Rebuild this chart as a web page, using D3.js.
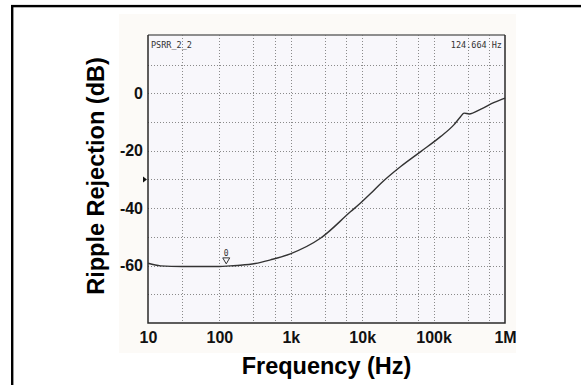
<!DOCTYPE html>
<html>
<head>
<meta charset="utf-8">
<script src="https://cdn.jsdelivr.net/npm/d3@7/dist/d3.min.js"></script>
<style>
  html, body { margin: 0; padding: 0; background: #ffffff; }
  svg { display: block; }
</style>
</head>
<body>
<svg id="chart" width="581" height="385"></svg>
<script>
// Measured ripple rejection vs frequency
const freqHz = [10, 15, 30, 100, 141, 196, 317, 519, 985, 2600, 6900, 9400, 13000, 18200,
                34600, 66000, 125000, 192000, 240000, 267000, 315000, 460000, 707000, 1000000];
const rejectionDb = [-59.2, -60.1, -60.3, -60.3, -60.1, -59.9, -59.3, -58.0, -55.9, -50.5, -41.2, -38.3, -35.0, -31.4,
                     -25.5, -20.3, -15.1, -11.0, -8.1, -6.9, -7.2, -5.5, -3.2, -1.7];

const xTickValues = [10, 100, 1000, 10000, 100000, 1000000];
const xTickLabels = ["10", "100", "1k", "10k", "100k", "1M"];
const xGridValues = [30, 100, 300, 600, 1000, 3000, 6000, 10000, 30000, 60000, 100000, 300000, 600000];
const yTickValues = [0, -20, -40, -60];
const yTickLabels = ["0", "-20", "-40", "-60"];
const yGridValues = [10, 0, -10, -20, -30, -40, -50, -60, -70];
const cursorHz = 124.664;
const cursorDb = -60.1;
const traceName = "PSRR_2_2";
const cursorText = "124.664 Hz";

const svg = d3.select("#chart");
const W = 581, H = 385;

const plot = { left: 148, right: 505, top: 35, bottom: 323 };

const x = d3.scaleLog().domain([10, 1000000]).range([plot.left, plot.right]);
const y = d3.scaleLinear().domain([-80, 20.3]).range([plot.bottom, plot.top]);

// outer frame (only the top and left edges fall inside the view)
svg.append("rect")
  .attr("x", 12.2).attr("y", 6.1)
  .attr("width", W + 20).attr("height", H + 20)
  .attr("fill", "none").attr("stroke", "#000").attr("stroke-width", 2.4);

// pale panel behind the analyser plot
svg.append("rect")
  .attr("x", 119).attr("y", 14)
  .attr("width", 397).attr("height", 339)
  .attr("fill", "#fcfaf7");

// plot area
svg.append("rect")
  .attr("x", plot.left).attr("y", plot.top)
  .attr("width", plot.right - plot.left).attr("height", plot.bottom - plot.top)
  .attr("fill", "#f8f7fb");

// dotted grid
const grid = svg.append("g").attr("stroke", "#8a8a8a").attr("stroke-width", 1)
  .attr("stroke-dasharray", "1,2").attr("fill", "none");
grid.selectAll("line.v").data(xGridValues).join("line")
  .attr("class", "v")
  .attr("x1", d => Math.round(x(d)) + 0.5).attr("x2", d => Math.round(x(d)) + 0.5)
  .attr("y1", plot.top).attr("y2", plot.bottom);
grid.selectAll("line.h").data(yGridValues).join("line")
  .attr("class", "h")
  .attr("x1", plot.left).attr("x2", plot.right)
  .attr("y1", d => Math.round(y(d)) + 0.5).attr("y2", d => Math.round(y(d)) + 0.5);

// frame around the plot
svg.append("line").attr("x1", plot.left).attr("x2", plot.right)
  .attr("y1", plot.top).attr("y2", plot.top)
  .attr("stroke", "#6a6a6a").attr("stroke-width", 1.3);
svg.append("path")
  .attr("d", `M${plot.right},${plot.top}V${plot.bottom}H${plot.left}V${plot.top}`)
  .attr("fill", "none").attr("stroke", "#2a2a2a").attr("stroke-width", 1.5);

// axes labels via d3 axes, with lines hidden
const xAxis = d3.axisBottom(x).tickValues(xTickValues)
  .tickFormat((d, i) => xTickLabels[i]).tickSize(0).tickPadding(9);
const gx = svg.append("g").attr("transform", `translate(0,${plot.bottom})`).call(xAxis);
gx.select(".domain").remove();
gx.selectAll("text")
  .attr("font-family", "Liberation Sans, Arial, sans-serif")
  .attr("font-weight", "bold").attr("font-size", 16).attr("fill", "#111");

const yAxis = d3.axisLeft(y).tickValues(yTickValues)
  .tickFormat((d, i) => yTickLabels[i]).tickSize(0).tickPadding(5);
const gy = svg.append("g").attr("transform", `translate(${plot.left},0)`).call(yAxis);
gy.select(".domain").remove();
gy.selectAll("text")
  .attr("font-family", "Liberation Sans, Arial, sans-serif")
  .attr("font-weight", "bold").attr("font-size", 16).attr("fill", "#111");

// axis titles
svg.append("text")
  .attr("x", (plot.left + plot.right) / 2).attr("y", 374)
  .attr("text-anchor", "middle")
  .attr("font-family", "Liberation Sans, Arial, sans-serif")
  .attr("font-weight", "bold").attr("font-size", 23.5).attr("fill", "#000")
  .text("Frequency (Hz)");
svg.append("text")
  .attr("transform", `translate(104,176) rotate(-90)`)
  .attr("text-anchor", "middle")
  .attr("font-family", "Liberation Sans, Arial, sans-serif")
  .attr("font-weight", "bold").attr("font-size", 23.5).attr("fill", "#000")
  .text("Ripple Rejection (dB)");

// analyser annotations
svg.append("text")
  .attr("x", plot.left + 3).attr("y", plot.top + 13)
  .attr("font-family", "DejaVu Sans Mono, monospace")
  .attr("font-size", 8.5).attr("fill", "#333")
  .text(traceName);
svg.append("text")
  .attr("x", plot.right - 3).attr("y", plot.top + 13)
  .attr("text-anchor", "end")
  .attr("font-family", "DejaVu Sans Mono, monospace")
  .attr("font-size", 8.5).attr("fill", "#333")
  .text(cursorText);

// reference-level pointer on the left edge
const py = y(-30);
svg.append("path")
  .attr("d", `M${plot.left - 5},${py - 3}L${plot.left - 1},${py}L${plot.left - 5},${py + 3}Z`)
  .attr("fill", "#111");

// response trace
const line = d3.line()
  .x((d, i) => x(freqHz[i]))
  .y(d => y(d))
  .curve(d3.curveMonotoneX);
svg.append("path")
  .datum(rejectionDb)
  .attr("d", line)
  .attr("fill", "none").attr("stroke", "#333").attr("stroke-width", 1.4);

// cursor marker
const cx = x(cursorHz), cy = y(cursorDb);
svg.append("path")
  .attr("d", `M${cx - 3.5},${cy - 8}L${cx + 3.5},${cy - 8}L${cx},${cy - 2}Z`)
  .attr("fill", "none").attr("stroke", "#333").attr("stroke-width", 1);
svg.append("text")
  .attr("x", cx).attr("y", cy - 10)
  .attr("text-anchor", "middle")
  .attr("font-family", "DejaVu Sans Mono, monospace")
  .attr("font-size", 8).attr("fill", "#333")
  .text("0");
</script>
</body>
</html>
